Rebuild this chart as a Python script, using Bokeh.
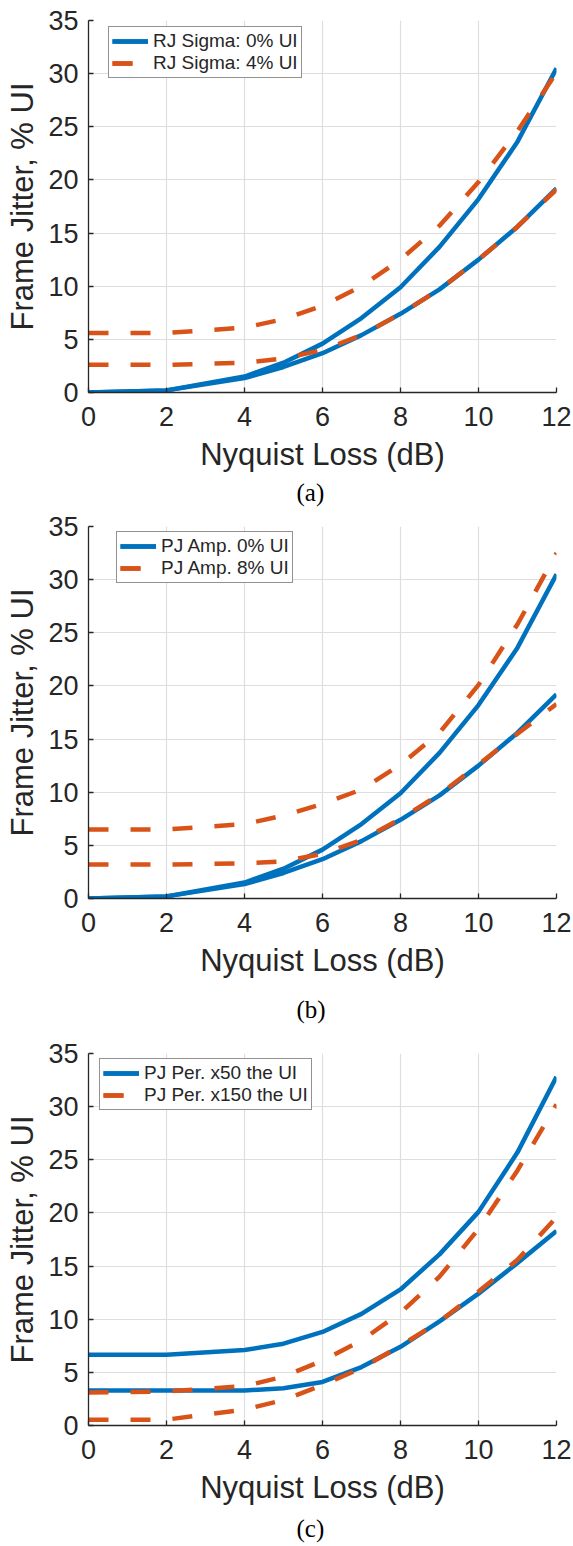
from bokeh.plotting import figure
from bokeh.layouts import column
from bokeh.models import Range1d, FixedTicker, Legend, LegendItem, Title
from bokeh.embed import file_html
from bokeh.resources import INLINE

# ---------------- data ----------------
x_db = [0, 2, 4, 5, 6, 7, 8, 9, 10, 11, 12]
x_ticks = [0, 2, 4, 6, 8, 10, 12]
y_ticks = [0, 5, 10, 15, 20, 25, 30, 35]

# (a) RJ sigma
a_rj0_upper = [0.0, 0.2, 1.5, 2.8, 4.6, 7.0, 9.9, 13.7, 18.2, 23.6, 30.5]
a_rj0_lower = [0.0, 0.2, 1.35, 2.4, 3.7, 5.4, 7.4, 9.7, 12.5, 15.6, 19.2]
a_rj4_upper = [5.6, 5.6, 6.1, 6.9, 8.15, 10.0, 12.5, 15.7, 19.8, 24.6, 30.1]
a_rj4_lower = [2.6, 2.6, 2.8, 3.2, 4.0, 5.4, 7.4, 9.7, 12.5, 15.6, 19.1]
a_labels = ["RJ Sigma: 0% UI", "RJ Sigma: 4% UI"]

# (b) PJ amplitude
b_pj0_upper = [0.0, 0.2, 1.5, 2.8, 4.6, 7.0, 9.9, 13.7, 18.2, 23.6, 30.5]
b_pj0_lower = [0.0, 0.2, 1.35, 2.4, 3.7, 5.4, 7.4, 9.7, 12.5, 15.6, 19.2]
b_pj8_upper = [6.5, 6.5, 7.0, 7.8, 8.9, 10.25, 12.6, 15.6, 20.1, 25.8, 32.5]
b_pj8_lower = [3.2, 3.2, 3.3, 3.5, 4.2, 5.5, 7.5, 9.8, 12.6, 15.5, 18.3]
b_labels = ["PJ Amp. 0% UI", "PJ Amp. 8% UI"]

# (c) PJ period
c_x50_upper = [6.65, 6.65, 7.1, 7.7, 8.8, 10.5, 12.8, 16.1, 20.1, 25.7, 32.8]
c_x50_lower = [3.3, 3.3, 3.3, 3.5, 4.1, 5.5, 7.4, 9.8, 12.4, 15.3, 18.3]
c_x150_upper = [3.1, 3.2, 3.7, 4.6, 6.1, 8.0, 10.6, 14.0, 18.5, 24.0, 30.2]
c_x150_lower = [0.55, 0.55, 1.5, 2.4, 3.8, 5.4, 7.5, 9.8, 12.6, 15.6, 19.6]
c_labels = ["PJ Per. x50 the UI", "PJ Per. x150 the UI"]

captions = ["(a)", "(b)", "(c)"]

BLUE = "#0072BD"
ORANGE = "#D95319"
INK = "#262626"
FONT = "Liberation Sans"


def panel(height, top, bottom, blue_up, blue_lo, orng_up, orng_lo, labels,
          legend_xy, caption, cap_standoff):
    p = figure(width=573, height=height, x_range=Range1d(0, 12), y_range=Range1d(0, 35),
               output_backend="svg", toolbar_location=None, title=None,
               min_border_left=88, min_border_right=17,
               min_border_top=top, min_border_bottom=bottom)
    p.outline_line_color = None
    p.background_fill_color = "white"
    p.border_fill_color = "white"

    p.xaxis.ticker = FixedTicker(ticks=x_ticks)
    p.yaxis.ticker = FixedTicker(ticks=y_ticks)
    p.xaxis.axis_label = "Nyquist Loss (dB)"
    p.yaxis.axis_label = "Frame Jitter, % UI"
    for ax in (p.xaxis[0], p.yaxis[0]):
        ax.axis_line_color = INK
        ax.axis_line_width = 1.3
        ax.major_tick_in = 5
        ax.major_tick_out = 0
        ax.major_tick_line_color = INK
        ax.major_tick_line_width = 1.3
        ax.minor_tick_line_color = None
        ax.major_label_text_font = FONT
        ax.major_label_text_font_size = "27px"
        ax.major_label_text_color = INK
        ax.axis_label_text_font = FONT
        ax.axis_label_text_font_size = "31px"
        ax.axis_label_text_font_style = "normal"
        ax.axis_label_text_color = INK
    p.xaxis.major_label_standoff = 14
    p.yaxis.major_label_standoff = 10
    p.xaxis.axis_label_standoff = 8
    p.yaxis.axis_label_standoff = 5

    p.grid.grid_line_color = "#dedede"
    p.grid.grid_line_width = 1.2

    r1 = p.line(x_db, blue_up, line_color=BLUE, line_width=4.5, line_join="round")
    r2 = p.line(x_db, blue_lo, line_color=BLUE, line_width=4.5, line_join="round")
    r3 = p.line(x_db, orng_up, line_color=ORANGE, line_width=4.5, line_dash="20 22")
    r4 = p.line(x_db, orng_lo, line_color=ORANGE, line_width=4.5, line_dash="20 22")

    legend = Legend(items=[LegendItem(label=labels[0], renderers=[r1, r2]),
                           LegendItem(label=labels[1], renderers=[r3, r4])],
                    location=legend_xy, margin=0, padding=3, spacing=0,
                    glyph_width=36, glyph_height=22, label_height=22,
                    label_standoff=5,
                    label_text_font=FONT, label_text_font_size="19px",
                    label_text_color=INK,
                    border_line_color=INK, border_line_width=1.3,
                    background_fill_color="white", background_fill_alpha=1.0)
    p.add_layout(legend)

    cap = Title(text=caption, align="left", offset=208, standoff=cap_standoff,
                text_font="Liberation Serif", text_font_size="25px",
                text_font_style="normal", text_color="black")
    p.add_layout(cap, "below")
    return p


pa = panel(510, 20, 118, a_rj0_upper, a_rj0_lower, a_rj4_upper, a_rj4_lower, a_labels,
           (20, 314), captions[0], 4)
pb = panel(530, 16, 142, b_pj0_upper, b_pj0_lower, b_pj8_upper, b_pj8_lower, b_labels,
           (28, 315), captions[1], 26)
pc = panel(506, 13, 121, c_x50_upper, c_x50_lower, c_x150_upper, c_x150_lower, c_labels,
           (11, 315), captions[2], 10)

layout = column(pa, pb, pc, spacing=0)
open("out.html", "w").write(file_html(layout, INLINE))
